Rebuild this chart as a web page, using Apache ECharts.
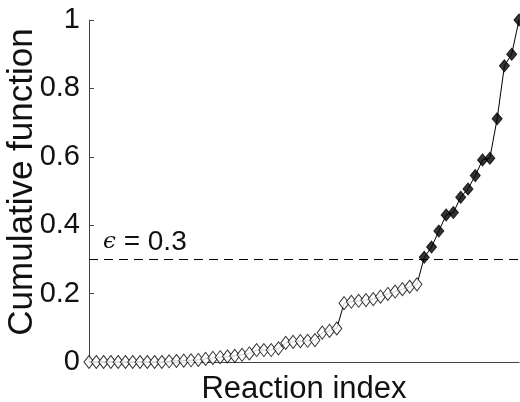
<!DOCTYPE html>
<html>
<head>
<meta charset="utf-8">
<script src="https://cdn.jsdelivr.net/npm/echarts@6/dist/echarts.min.js"></script>
<style>
html,body{margin:0;padding:0;background:#fff;}
#c{width:520px;height:402px;}
</style>
</head>
<body>
<div id="c"></div>
<script>
// Reaction indices 1..60 (open: below threshold, filled: above threshold)
const openValues = [0,0,0,0,0,0,0,0,0,0,0,
  0.002,0.003,0.004,0.005,0.006,0.009,0.012,0.014,0.016,0.018,0.021,0.025,
  0.035,0.035,0.035,0.04,0.056,0.059,0.061,0.062,0.064,0.086,0.091,0.098,
  0.172,0.176,0.179,0.181,0.184,0.191,0.199,0.206,0.213,0.22,0.227];
const filledValues = [0.306,0.336,0.383,0.430,0.437,0.482,0.506,0.545,0.591,0.596,0.711,0.866,0.900,1.0];
const yTicks = [0,0.2,0.4,0.6,0.8,1];
const epsilon = 0.3;
const xName = 'Reaction index';
const yName = 'Cumulative function';

const allValues = openValues.concat(filledValues);
const lineData = allValues.map((v,i)=>[i+1,v]);
const openData = openValues.map((v,i)=>[i+1,v]);
const filledData = filledValues.map((v,i)=>[openValues.length+i+1,v]);

const chart = echarts.init(document.getElementById('c'));
const font = 'Liberation Sans, Arial, Helvetica, sans-serif';
const txt = '#111';
chart.setOption({
  animation:false,
  grid:{left:89,right:1,top:20,bottom:40,containLabel:false,outerBoundsMode:'none'},
  xAxis:{type:'value',min:1,max:allValues.length,
    name:xName,nameLocation:'middle',nameGap:12,nameMoveOverlap:false,
    nameTextStyle:{fontFamily:font,fontSize:31,color:txt,verticalAlign:'top'},
    axisLine:{show:true,lineStyle:{color:'#444',width:1}},
    axisTick:{show:false},axisLabel:{show:false},splitLine:{show:false}},
  yAxis:{type:'value',min:0,max:1,interval:0.2,
    name:yName,nameLocation:'middle',nameGap:49,nameMoveOverlap:false,
    nameTextStyle:{fontFamily:font,fontSize:35,color:txt,padding:[0,0,0,18]},
    axisLine:{show:true,lineStyle:{color:'#444',width:1}},
    axisTick:{show:true,inside:true,length:5,lineStyle:{color:'#444'}},
    axisLabel:{fontFamily:font,fontSize:29,color:txt,margin:9,
      formatter:v=>{const t=yTicks.find(x=>Math.abs(x-v)<1e-9);return t===undefined?'':String(t);}},
    splitLine:{show:false}},
  series:[
    {type:'line',data:lineData,showSymbol:false,symbol:'none',
      lineStyle:{color:'#000',width:1},z:1,
      markLine:{silent:true,symbol:'none',
        lineStyle:{color:'#000',type:[9,6],width:1},
        label:{show:true,position:'insideStartTop',distance:[14,3],
          formatter:'{e|ϵ} = ' + epsilon,
          fontFamily:font,fontSize:28,color:txt,
          rich:{e:{fontFamily:'DejaVu Serif, serif',fontStyle:'italic',fontSize:23,color:txt}}},
        data:[{yAxis:epsilon}]}},
    {type:'scatter',data:openData,symbol:'diamond',symbolSize:[10,13],
      itemStyle:{color:'#fff',borderColor:'#000',borderWidth:1},z:3},
    {type:'scatter',data:filledData,symbol:'diamond',symbolSize:[10,12],
      itemStyle:{color:'#000',borderColor:'#000',borderWidth:1},z:3}
  ]
});
</script>
</body>
</html>
